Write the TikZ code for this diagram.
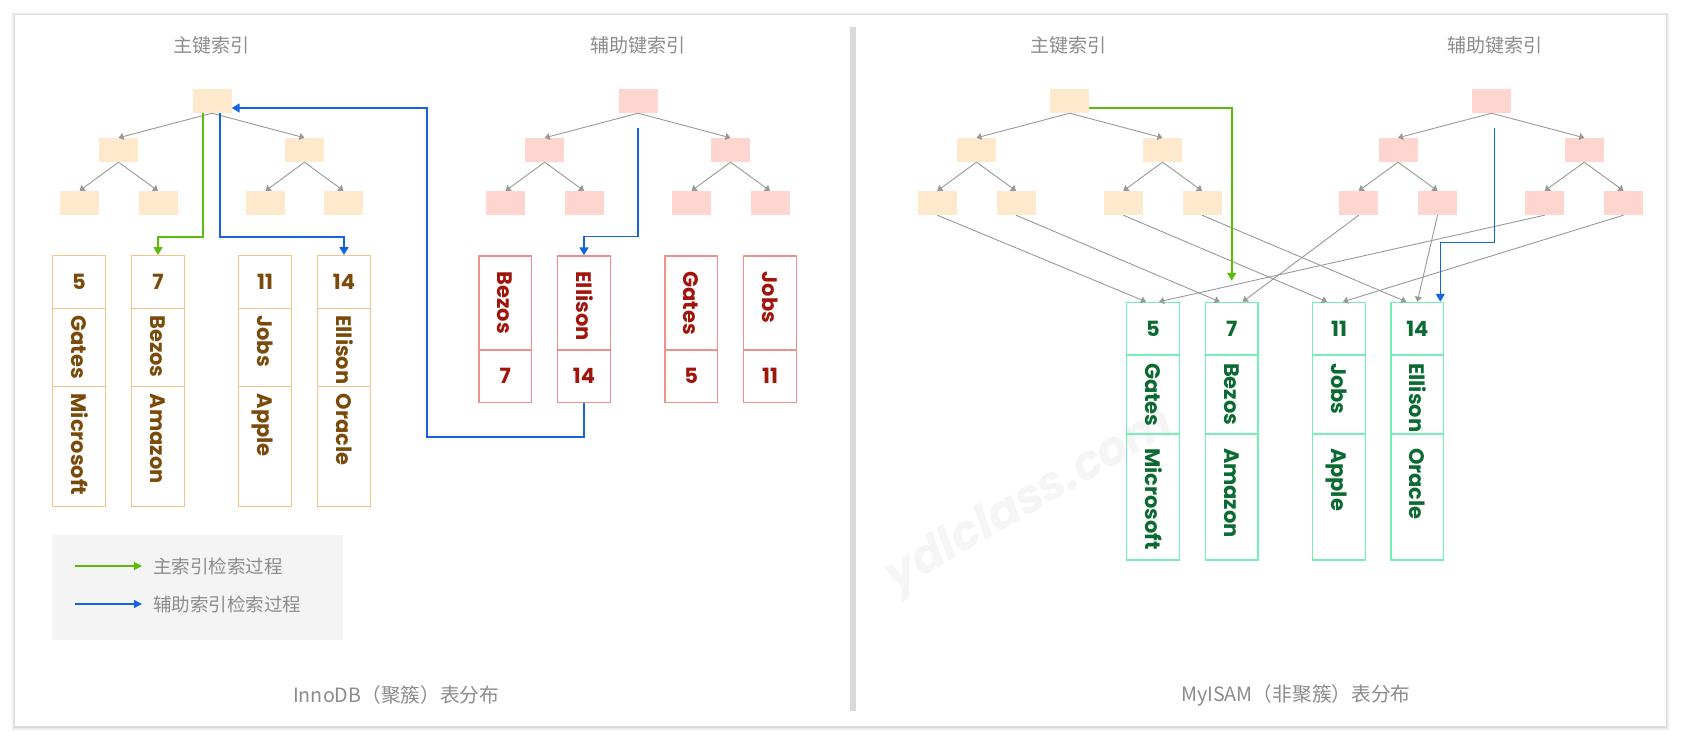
\documentclass[tikz,border=0pt]{standalone}
\usepackage{fontspec}
\setmainfont{Noto Sans CJK SC}
\newfontfamily\leaffont{Poppins}
\usetikzlibrary{arrows.meta}

\definecolor{pkfill}{HTML}{FFE9CD}
\definecolor{skfill}{HTML}{FFD6CF}
\definecolor{iline}{HTML}{F2C488}
\definecolor{itext}{HTML}{7A4A0A}
\definecolor{sline}{HTML}{F0908A}
\definecolor{stext}{HTML}{A0140A}
\definecolor{mline}{HTML}{74F0B4}
\definecolor{mtext}{HTML}{0B6A32}
\definecolor{pkarrow}{HTML}{5CBA0A}
\definecolor{skarrow}{HTML}{1464E0}
\definecolor{edgegray}{HTML}{999999}
\definecolor{labelgray}{HTML}{8C8C8C}
\definecolor{divider}{HTML}{D9D9D9}
\definecolor{legendfill}{HTML}{F4F4F4}

\tikzset{
  pkbox/.style={fill=pkfill, minimum width=39pt, minimum height=24pt, inner sep=0pt},
  skbox/.style={fill=skfill, minimum width=39pt, minimum height=24pt, inner sep=0pt},
  treearrow/.style={draw=edgegray, line width=0.9pt, -{Triangle[length=5pt,width=7pt]}},
  pkpath/.style={draw=pkarrow, line width=1.6pt, -{Triangle[length=8pt,width=9pt]}},
  skpath/.style={draw=skarrow, line width=1.6pt, -{Triangle[length=8pt,width=9pt]}},
  leaf/.style={line width=1.4pt, inner sep=0pt, text height=15pt, text depth=0pt,
    font=\leaffont\bfseries\fontsize{21}{21}\selectfont},
  num/.style={leaf, minimum width=52.5pt, minimum height=52.5pt},
  word/.style={leaf, rotate=-90, minimum height=52.5pt, align=left},
  ileaf/.style={draw=iline, text=itext},
  sleaf/.style={draw=sline, text=stext},
  mleaf/.style={draw=mline, text=mtext},
  title/.style={text=labelgray, font=\fontsize{19}{19}\selectfont},
  caption/.style={text=labelgray, font=\fontsize{19.7}{19.7}\selectfont},
}

\begin{document}
\begin{tikzpicture}[x=1pt, y=-1pt]
  \useasboundingbox (0,0) rectangle (1681,741);
  % card and its shadow
  \fill[black, opacity=0.025] (11,12) rectangle (1670,731);
  \fill[black, opacity=0.03] (12,13) rectangle (1669,730);
  \fill[black, opacity=0.04] (13,14) rectangle (1668,729);
  \fill[black, opacity=0.06] (14,14.5) rectangle (1667,727.5);
  \fill[white] (15,15) rectangle (1666,726);
  \fill[divider] (850,27) rectangle (856,711);
  \node[rotate=30, text=black, opacity=0.04, font=\leaffont\bfseries\itshape\fontsize{47}{47}\selectfont] (wm) at (1030,502) {ydlclass.com};

  % InnoDB: primary key tree
  \node[title] (ipktitle) at (211,45) {主键索引};
  \node[pkbox] (ipk) at (212,101) {};
  \node[pkbox] (ipkl) at (118.5,150) {};
  \node[pkbox] (ipkr) at (304.5,150) {};
  \node[pkbox] (ipkll) at (79.5,203) {};
  \node[pkbox] (ipklr) at (158,203) {};
  \node[pkbox] (ipkrl) at (265.5,203) {};
  \node[pkbox] (ipkrr) at (343.5,203) {};
  \draw[treearrow] (ipk.south) -- (ipkl.north);
  \draw[treearrow] (ipk.south) -- (ipkr.north);
  \draw[treearrow] (ipkl.south) -- (ipkll.north);
  \draw[treearrow] (ipkl.south) -- (ipklr.north);
  \draw[treearrow] (ipkr.south) -- (ipkrl.north);
  \draw[treearrow] (ipkr.south) -- (ipkrr.north);

  % InnoDB: clustered leaves
  \node[num, ileaf] (i5) at (79,282) {5};
  \node[word, ileaf, minimum width=78.4pt, text width=64.4pt, inner xsep=7pt] (igates) at (79,347.5) {Gates};
  \node[word, ileaf, minimum width=120pt, text width=106pt, inner xsep=7pt] (imicrosoft) at (79,446.7) {Microsoft};
  \node[num, ileaf] (i7) at (158,282) {7};
  \node[word, ileaf, minimum width=78.4pt, text width=64.4pt, inner xsep=7pt] (ibezos) at (158,347.5) {Bezos};
  \node[word, ileaf, minimum width=120pt, text width=106pt, inner xsep=7pt] (iamazon) at (158,446.7) {Amazon};
  \node[num, ileaf] (i11) at (265,282) {11};
  \node[word, ileaf, minimum width=78.4pt, text width=64.4pt, inner xsep=7pt] (ijobs) at (265,347.5) {Jobs};
  \node[word, ileaf, minimum width=120pt, text width=106pt, inner xsep=7pt] (iapple) at (265,446.7) {Apple};
  \node[num, ileaf] (i14) at (344,282) {14};
  \node[word, ileaf, minimum width=78.4pt, text width=64.4pt, inner xsep=7pt] (iellison) at (344,347.5) {Ellison};
  \node[word, ileaf, minimum width=120pt, text width=106pt, inner xsep=7pt] (ioracle) at (344,446.7) {Oracle};

  % InnoDB: secondary key tree
  \node[title] (isktitle) at (638,45) {辅助键索引};
  \node[skbox] (isk) at (638,101) {};
  \node[skbox] (iskl) at (544.7,150) {};
  \node[skbox] (iskr) at (730.5,150) {};
  \node[skbox] (iskll) at (505.5,203) {};
  \node[skbox] (isklr) at (584,203) {};
  \node[skbox] (iskrl) at (691.5,203) {};
  \node[skbox] (iskrr) at (770,203) {};
  \draw[treearrow] (isk.south) -- (iskl.north);
  \draw[treearrow] (isk.south) -- (iskr.north);
  \draw[treearrow] (iskl.south) -- (iskll.north);
  \draw[treearrow] (iskl.south) -- (isklr.north);
  \draw[treearrow] (iskr.south) -- (iskrl.north);
  \draw[treearrow] (iskr.south) -- (iskrr.north);

  % InnoDB: secondary leaves
  \node[word, sleaf, minimum width=94pt, text width=63pt, inner xsep=15.5pt] (sbezos) at (505.3,303) {Bezos};
  \node[num, sleaf] (s7) at (505.3,376) {7};
  \node[word, sleaf, minimum width=94pt, text width=63pt, inner xsep=15.5pt] (sellison) at (584,303) {Ellison};
  \node[num, sleaf] (s14) at (584,376) {14};
  \node[word, sleaf, minimum width=94pt, text width=63pt, inner xsep=15.5pt] (sgates) at (691.3,303) {Gates};
  \node[num, sleaf] (s5) at (691.3,376) {5};
  \node[word, sleaf, minimum width=94pt, text width=63pt, inner xsep=15.5pt] (sjobs) at (770,303) {Jobs};
  \node[num, sleaf] (s11) at (770,376) {11};

  % InnoDB: lookups
  \draw[pkpath] ([xshift=-9pt]ipk.south) -- ++(0,124) -| (i7.north);
  \draw[skpath] ([xshift=8pt]ipk.south) -- ++(0,124) -| (i14.north);
  \draw[skpath] ([yshift=-15pt]isk.south) -- ++(0,108.4) -| (sellison.west);
  \draw[skpath] (s14.south) -- ++(0,34) -- ++(-157.3,0) |- ([yshift=-7pt]ipk.east);

  % legend
  \fill[legendfill] (52,535) rectangle (343,640);
  \coordinate (lgpa) at (75,566);
  \coordinate (lgpb) at (142,566);
  \coordinate (lgsa) at (75,604);
  \coordinate (lgsb) at (142,604);
  \draw[pkpath, line width=1.2pt, -{Triangle[length=8pt,width=8pt]}] (lgpa) -- (lgpb);
  \draw[skpath, line width=1.2pt, -{Triangle[length=8pt,width=8pt]}] (lgsa) -- (lgsb);
  \node[title, anchor=west, inner sep=0pt, font=\fontsize{18.5}{18.5}\selectfont] (lgptext) at (153,566) {主索引检索过程};
  \node[title, anchor=west, inner sep=0pt, font=\fontsize{18.5}{18.5}\selectfont] (lgstext) at (153,604) {辅助索引检索过程};
  \node[caption, anchor=west, inner sep=0pt] (icaption) at (293,695) {InnoDB（聚簇）表分布};

  % MyISAM: primary key tree
  \node[title] (mpktitle) at (1068,45) {主键索引};
  \node[pkbox] (mpk) at (1069.7,101) {};
  \node[pkbox] (mpkl) at (976.5,150) {};
  \node[pkbox] (mpkr) at (1162.5,150) {};
  \node[pkbox] (mpkll) at (937.3,203) {};
  \node[pkbox] (mpklr) at (1016,203) {};
  \node[pkbox] (mpkrl) at (1123.3,203) {};
  \node[pkbox] (mpkrr) at (1202,203) {};
  \draw[treearrow] (mpk.south) -- (mpkl.north);
  \draw[treearrow] (mpk.south) -- (mpkr.north);
  \draw[treearrow] (mpkl.south) -- (mpkll.north);
  \draw[treearrow] (mpkl.south) -- (mpklr.north);
  \draw[treearrow] (mpkr.south) -- (mpkrl.north);
  \draw[treearrow] (mpkr.south) -- (mpkrr.north);

  % MyISAM: secondary key tree
  \node[title] (msktitle) at (1495,45) {辅助键索引};
  \node[skbox] (msk) at (1491.5,101) {};
  \node[skbox] (mskl) at (1398,150) {};
  \node[skbox] (mskr) at (1584.3,150) {};
  \node[skbox] (mskll) at (1358.7,203) {};
  \node[skbox] (msklr) at (1437.5,203) {};
  \node[skbox] (mskrl) at (1544.7,203) {};
  \node[skbox] (mskrr) at (1623.5,203) {};
  \draw[treearrow] (msk.south) -- (mskl.north);
  \draw[treearrow] (msk.south) -- (mskr.north);
  \draw[treearrow] (mskl.south) -- (mskll.north);
  \draw[treearrow] (mskl.south) -- (msklr.north);
  \draw[treearrow] (mskr.south) -- (mskrl.north);
  \draw[treearrow] (mskr.south) -- (mskrr.north);

  % MyISAM: data rows
  \node[num, mleaf] (m5) at (1153,328.7) {5};
  \node[word, mleaf, minimum width=79.3pt, text width=62.3pt, inner xsep=8.5pt] (mgates) at (1153,394.3) {Gates};
  \node[word, mleaf, minimum width=126pt, text width=98pt, inner xsep=14pt] (mmicrosoft) at (1153,497) {Microsoft};
  \node[num, mleaf] (m7) at (1231.7,328.7) {7};
  \node[word, mleaf, minimum width=79.3pt, text width=62.3pt, inner xsep=8.5pt] (mbezos) at (1231.7,394.3) {Bezos};
  \node[word, mleaf, minimum width=126pt, text width=98pt, inner xsep=14pt] (mamazon) at (1231.7,497) {Amazon};
  \node[num, mleaf] (m11) at (1339,328.7) {11};
  \node[word, mleaf, minimum width=79.3pt, text width=62.3pt, inner xsep=8.5pt] (mjobs) at (1339,394.3) {Jobs};
  \node[word, mleaf, minimum width=126pt, text width=98pt, inner xsep=14pt] (mapple) at (1339,497) {Apple};
  \node[num, mleaf] (m14) at (1417.3,328.7) {14};
  \node[word, mleaf, minimum width=79.3pt, text width=62.3pt, inner xsep=8.5pt] (mellison) at (1417.3,394.3) {Ellison};
  \node[word, mleaf, minimum width=126pt, text width=98pt, inner xsep=14pt] (moracle) at (1417.3,497) {Oracle};

  % MyISAM: leaf pointers
  \draw[treearrow] (mpkll.south) -- ([xshift=-7pt]m5.north);
  \draw[treearrow] (mpklr.south) -- ([xshift=-12pt]m7.north);
  \draw[treearrow] (mpkrl.south) -- ([xshift=-12pt]m11.north);
  \draw[treearrow] (mpkrr.south) -- ([xshift=-11pt]m14.north);
  \draw[treearrow] (mskll.south) -- ([xshift=11pt]m7.north);
  \draw[treearrow] (msklr.south) -- (m14.north);
  \draw[treearrow] (mskrl.south) -- ([xshift=6pt]m5.north);
  \draw[treearrow] (mskrr.south) -- ([xshift=4pt]m11.north);

  % MyISAM: lookups
  \draw[pkpath] ([yshift=-7pt]mpk.east) -| ([yshift=21pt]m7.north);
  \draw[skpath] ([xshift=3pt,yshift=-15pt]msk.south) -- ++(0,114.4) -| ([xshift=23pt]m14.north);
  \node[caption, anchor=west, inner sep=0pt] (mcaption) at (1181,695) {MyISAM（非聚簇）表分布};
\end{tikzpicture}
\end{document}
